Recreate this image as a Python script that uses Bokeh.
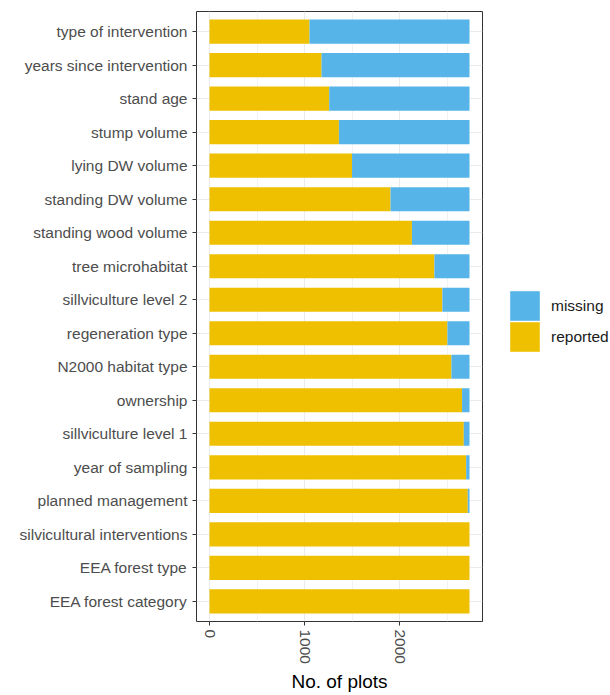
from bokeh.plotting import figure
from bokeh.layouts import row
from bokeh.models import ColumnDataSource, Range1d, FactorRange, Legend, LegendItem, FixedTicker
from bokeh.embed import file_html
from bokeh.resources import INLINE

# Data (top to bottom as displayed)
variables = [
    "type of intervention", "years since intervention", "stand age", "stump volume",
    "lying DW volume", "standing DW volume", "standing wood volume", "tree microhabitat",
    "sillviculture level 2", "regeneration type", "N2000 habitat type", "ownership",
    "sillviculture level 1", "year of sampling", "planned management",
    "silvicultural interventions", "EEA forest type", "EEA forest category",
]
total_plots = 2732
reported = [1051, 1177, 1258, 1360, 1498, 1902, 2127, 2363, 2447, 2500,
            2542, 2654, 2672, 2697, 2714, 2732, 2732, 2732]
missing = [total_plots - r for r in reported]
x_ticks = [0, 1000, 2000]
x_minor = [500, 1500, 2500]
series = ["reported", "missing"]
legend_order = ["missing", "reported"]

YELLOW = "#EFC000"
BLUE = "#56B4E9"
FONT = "Liberation Sans"
H = 694

cats = list(reversed(variables))
src = ColumnDataSource(dict(cat=variables, reported=reported, missing=missing))

xmax = total_plots * 1.05
xmin = -total_plots * 0.05

p = figure(width=483, height=H, output_backend="svg", toolbar_location=None,
           y_range=FactorRange(factors=cats, range_padding=0.1, range_padding_units="absolute"),
           x_range=Range1d(xmin, xmax),
           min_border_left=196, min_border_right=1, min_border_top=11, min_border_bottom=70)

p.hbar_stack(series, y="cat", height=0.72, color=[YELLOW, BLUE], line_color=None, source=src)

# Axes styling
p.xaxis.ticker = FixedTicker(ticks=x_ticks, minor_ticks=x_minor)
p.xaxis.major_label_orientation = "vertical"
p.xaxis.axis_label = "No. of plots"
p.xaxis.axis_label_text_font = FONT
p.xaxis.axis_label_text_font_size = "19px"
p.xaxis.axis_label_text_font_style = "normal"
p.xaxis.axis_label_text_color = "#000000"
p.xaxis.axis_label_standoff = 4

for ax in (p.xaxis[0], p.yaxis[0]):
    ax.axis_line_color = None
    ax.major_tick_line_color = "#333333"
    ax.major_tick_out = 4
    ax.major_tick_in = 0
    ax.minor_tick_line_color = None
    ax.major_label_text_font = FONT
    ax.major_label_text_font_size = "15.5px"
    ax.major_label_text_color = "#4d4d4d"

p.xaxis.major_label_standoff = 4
p.yaxis.major_label_standoff = 5

p.xgrid.grid_line_color = "#ebebeb"
p.xgrid.minor_grid_line_color = "#f2f2f2"
p.xgrid.minor_grid_line_width = 1
p.ygrid.grid_line_color = "#ebebeb"

p.outline_line_color = "#333333"
p.outline_line_width = 1
p.background_fill_color = "white"
p.border_fill_color = "white"

# Legend panel (separate figure to the right, so the legend sits outside the panel)
lg = figure(width=126, height=H, output_backend="svg", toolbar_location=None,
            x_axis_type=None, y_axis_type=None,
            y_range=FactorRange(factors=cats), x_range=Range1d(-2, -1),
            min_border_left=0, min_border_right=0, min_border_top=0, min_border_bottom=0)
lg.outline_line_color = None
lg.xgrid.visible = False
lg.ygrid.visible = False
lr = lg.hbar_stack(series, y="cat", height=0.72, color=[YELLOW, BLUE], line_color=None, source=src)
lr_by_name = dict(zip(series, lr))

# one single-item legend per key, so the keys can sit almost edge to edge
legend_y = {"missing": 297, "reported": 266}
for name in legend_order:
    leg = Legend(items=[LegendItem(label=name, renderers=[lr_by_name[name]])],
                 location=(23, legend_y[name]), orientation="vertical",
                 glyph_width=37, glyph_height=37, label_height=37, spacing=0,
                 padding=0, margin=0, label_standoff=8,
                 label_text_font=FONT, label_text_font_size="15.5px", label_text_color="#1a1a1a",
                 border_line_color=None, background_fill_alpha=0)
    lg.add_layout(leg, "center")

layout = row(p, lg, spacing=0)
open("out.html", "w").write(file_html(layout, INLINE))
